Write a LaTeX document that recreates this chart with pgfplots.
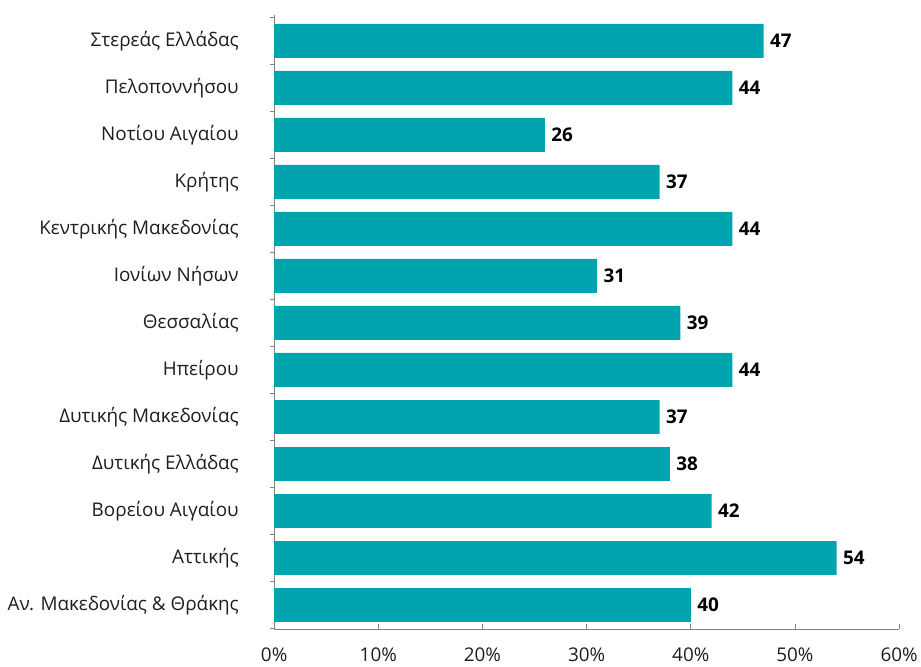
\documentclass[border=0pt]{standalone}
\usepackage{fontspec}
\setmainfont{Open Sans}
\usepackage{pgfplots}
\pgfplotsset{compat=1.18}
\definecolor{barc}{RGB}{0,164,175}
\definecolor{axc}{RGB}{130,130,130}
\definecolor{txt}{RGB}{30,30,30}
\begin{document}
\begin{tikzpicture}[x=1bp,y=1bp]
\begin{axis}[
  name=ax,
  scale only axis,
  width=627bp, height=616bp,
  xbar, bar width=34bp,
  xmin=0, xmax=60, ymin=-0.51, ymax=12.55,
  axis x line*=bottom, axis y line*=left,
  axis line style={axc, line width=0.9bp, -},
  xtick={0,10,...,60},
  xticklabel={\pgfmathprintnumber{\tick}\%},
  /pgf/number format/assume math mode=true,
  xticklabel style={font=\fontsize{19}{21}\selectfont, text=txt, yshift=-15bp},
  x tick style={axc, line width=0.9bp},
  xtick align=inside,
  major tick length=5bp,
  ytick={0,...,12},
  yticklabels={Αν. Μακεδονίας \& Θράκης, Αττικής, Βορείου Αιγαίου, Δυτικής Ελλάδας, Δυτικής Μακεδονίας, Ηπείρου, Θεσσαλίας, Ιονίων Νήσων, Κεντρικής Μακεδονίας, Κρήτης, Νοτίου Αιγαίου, Πελοποννήσου, Στερεάς Ελλάδας},
  yticklabel style={font=\fontsize{19}{21}\selectfont, text=txt, xshift=-27bp},
  y tick style={draw=none},
  minor ytick={-0.5,0.5,...,12.5},
  minor y tick style={axc, line width=0.9bp, draw=axc},
  minor tick length=4bp,
  ytick align=outside,
  nodes near coords,
  nodes near coords style={font=\fontsize{19}{21}\selectfont\bfseries, text=black, anchor=west, xshift=3bp},
  point meta=explicit symbolic,
  clip=false,
]
\addplot[fill=barc, draw=none] table[meta=l] {
x y l
40 0 40
54 1 54
42 2 42
38 3 38
37 4 37
44 5 44
39 6 39
31 7 31
44 8 44
37 9 37
26 10 26
44 11 44
47 12 47
};
\end{axis}
\path (ax.north west) ++(0,15bp);
\path (ax.south east) ++(19bp,-38bp);
\path (ax.south west) ++(-275bp,0);
\end{tikzpicture}
\end{document}
